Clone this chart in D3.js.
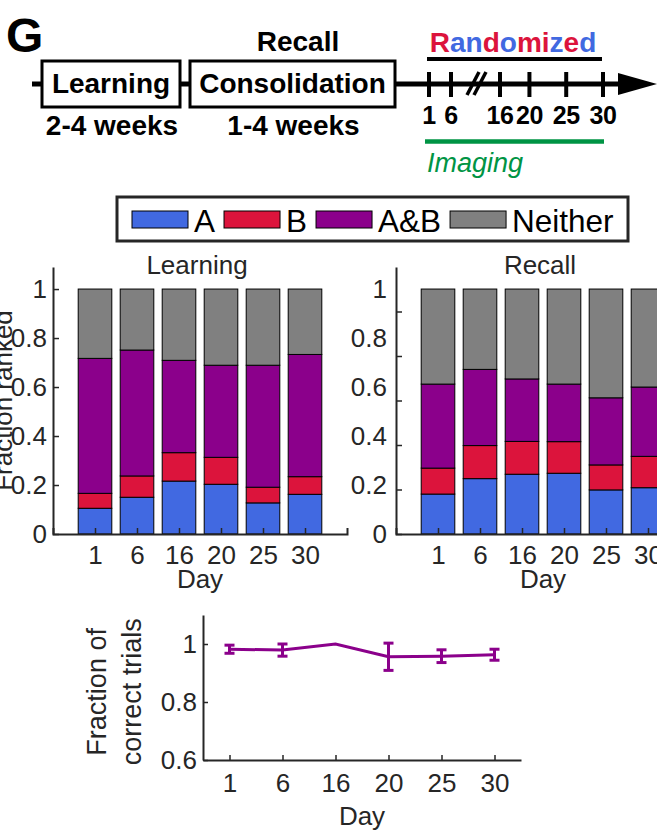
<!DOCTYPE html>
<html>
<head>
<meta charset="utf-8">
<script src="https://cdn.jsdelivr.net/npm/d3@7"></script>
<style>
  body { margin: 0; background: #fff; }
  svg { display: block; font-family: "Liberation Sans", Arial, sans-serif; }
</style>
</head>
<body>
<script>
// categories
var days = ['1', '6', '16', '20', '25', '30'];
var keys = ['A', 'B', 'A&B', 'Neither'];
var colors = ['#4169e1', '#dc143c', '#8b008b', '#808080'];

// learning session, fraction of each ranking category (segment heights)
var learnA = [0.105, 0.150, 0.216, 0.203, 0.127, 0.162];
var learnB = [0.061, 0.087, 0.116, 0.110, 0.064, 0.072];
var learnAB = [0.551, 0.514, 0.377, 0.376, 0.498, 0.499];
var learnNeither = [0.283, 0.249, 0.291, 0.311, 0.311, 0.267];

// recall session
var recallA = [0.163, 0.226, 0.244, 0.248, 0.180, 0.189];
var recallB = [0.106, 0.135, 0.134, 0.129, 0.102, 0.128];
var recallAB = [0.343, 0.311, 0.255, 0.235, 0.274, 0.283];
var recallNeither = [0.388, 0.328, 0.367, 0.388, 0.444, 0.400];

// fraction of correct trials, mean and error
var correctMean = [0.982, 0.979, 1.0, 0.956, 0.958, 0.963];
var correctErr = [0.014, 0.021, 0.0, 0.047, 0.022, 0.019];

// tick values
var yTicks = [0, 0.2, 0.4, 0.6, 0.8, 1];
var yTicksCorrect = [0.6, 0.8, 1];

// timeline days and letters of "Randomized" with colour
var timelineDays = [1, 6, 16, 20, 25, 30];
var randomWord = ['R', 'a', 'n', 'd', 'o', 'm', 'i', 'z', 'e', 'd'];
var randomColor = ['r', 'b', 'b', 'r', 'b', 'r', 'r', 'b', 'r', 'b'];

var width = 657, height = 832;
var axisColor = '#262626';
var fmt = d3.format('~g');

var svg = d3.select('body').append('svg')
  .attr('width', width)
  .attr('height', height);

svg.append('rect').attr('width', width).attr('height', height).attr('fill', '#fff');

// ---------- top: experiment timeline ----------
var tline = svg.append('g');

tline.append('text')
  .attr('x', 6).attr('y', 52)
  .attr('font-size', 48).attr('font-weight', 'bold')
  .text('G');

// timeline line pieces
var lineY = 84;
tline.append('line').attr('x1', 32).attr('x2', 42).attr('y1', lineY).attr('y2', lineY)
  .attr('stroke', '#000').attr('stroke-width', 5);
tline.append('line').attr('x1', 180).attr('x2', 190).attr('y1', lineY).attr('y2', lineY)
  .attr('stroke', '#000').attr('stroke-width', 5);
tline.append('line').attr('x1', 395).attr('x2', 622).attr('y1', lineY).attr('y2', lineY)
  .attr('stroke', '#000').attr('stroke-width', 5);
tline.append('path')
  .attr('d', 'M618,' + (lineY - 11) + 'L657,' + lineY + 'L618,' + (lineY + 11) + 'Z')
  .attr('fill', '#000');

// boxes
var boxes = [
  { label: 'Learning', under: '2-4 weeks', x0: 42, x1: 180 },
  { label: 'Consolidation', under: '1-4 weeks', x0: 190, x1: 395 }
];
boxes.forEach(function(b) {
  tline.append('rect')
    .attr('x', b.x0).attr('y', 61)
    .attr('width', b.x1 - b.x0).attr('height', 46)
    .attr('fill', '#fff').attr('stroke', '#000').attr('stroke-width', 3);
  tline.append('text')
    .attr('x', (b.x0 + b.x1) / 2).attr('y', 93)
    .attr('text-anchor', 'middle')
    .attr('font-size', 28).attr('font-weight', 'bold')
    .text(b.label);
  tline.append('text')
    .attr('x', (b.x0 + b.x1) / 2 + 1).attr('y', 135)
    .attr('text-anchor', 'middle')
    .attr('font-size', 28).attr('font-weight', 'bold')
    .text(b.under);
});

tline.append('text')
  .attr('x', 298).attr('y', 51)
  .attr('text-anchor', 'middle')
  .attr('font-size', 28).attr('font-weight', 'bold')
  .text('Recall');

// day ticks along the timeline (broken axis between 6 and 16)
var tl = d3.scaleLinear().domain([1, 6, 16, 30]).range([429, 451, 500, 603]);

tline.selectAll('line.tltick')
  .data(timelineDays)
  .enter().append('line')
  .attr('class', 'tltick')
  .attr('x1', function(d) { return tl(d); })
  .attr('x2', function(d) { return tl(d); })
  .attr('y1', 72).attr('y2', 97)
  .attr('stroke', '#000').attr('stroke-width', 4);

tline.selectAll('text.tllab')
  .data(timelineDays)
  .enter().append('text')
  .attr('class', 'tllab')
  .attr('x', function(d) { return tl(d); })
  .attr('y', 124)
  .attr('text-anchor', 'middle')
  .attr('font-size', 25).attr('font-weight', 'bold')
  .attr('letter-spacing', -0.5)
  .text(function(d) { return d; });

// break mark
[0, 7].forEach(function(dx) {
  tline.append('line')
    .attr('x1', 467 + dx).attr('y1', 95)
    .attr('x2', 479 + dx).attr('y2', 72)
    .attr('stroke', '#000').attr('stroke-width', 3.5);
});

// Randomized
var rnd = tline.append('text')
  .attr('x', 513).attr('y', 52)
  .attr('text-anchor', 'middle')
  .attr('font-size', 28).attr('font-weight', 'bold');
rnd.selectAll('tspan')
  .data(randomWord)
  .enter().append('tspan')
  .attr('fill', function(d, i) { return randomColor[i] === 'r' ? '#dc143c' : '#4169e1'; })
  .text(function(d) { return d; });

tline.append('line')
  .attr('x1', tl(1) - 2).attr('x2', tl(30) - 1)
  .attr('y1', 59).attr('y2', 59)
  .attr('stroke', '#000').attr('stroke-width', 4);

tline.append('line')
  .attr('x1', tl(1) - 4).attr('x2', tl(30) + 1)
  .attr('y1', 141.5).attr('y2', 141.5)
  .attr('stroke', '#009444').attr('stroke-width', 4.5);

tline.append('text')
  .attr('x', 427).attr('y', 172)
  .attr('font-size', 27).attr('font-style', 'italic')
  .attr('fill', '#009444')
  .text('Imaging');

// ---------- legend ----------
var legend = svg.append('g');
legend.append('rect')
  .attr('x', 117).attr('y', 197)
  .attr('width', 511).attr('height', 44)
  .attr('fill', '#fff').attr('stroke', axisColor).attr('stroke-width', 3);

var cursor = 132;
keys.forEach(function(k, i) {
  legend.append('rect')
    .attr('x', cursor).attr('y', 211)
    .attr('width', 56).attr('height', 17)
    .attr('fill', colors[i]).attr('stroke', '#000').attr('stroke-width', 1);
  var t = legend.append('text')
    .attr('x', cursor + 62).attr('y', 232)
    .attr('font-size', 31.5)
    .text(k);
  cursor = cursor + 62 + t.node().getComputedTextLength() + 9;
});

// ---------- stacked bar charts ----------
function styleAxis(g) {
  g.attr('color', axisColor)
    .attr('font-family', '"Liberation Sans", Arial, sans-serif')
    .attr('font-size', 26);
  g.select('.domain').attr('stroke-width', 2);
  g.selectAll('.tick line').attr('stroke-width', 1.5);
}

function stackedChart(left, title, a, b, ab, ne, oddTicks) {
  var x = d3.scaleLinear().domain([0, 7]).range([left, left + 294]);
  var y = d3.scaleLinear().domain([0, 1.09]).range([534, 267]);

  var rows = days.map(function(d, i) {
    return { idx: i + 1, 'A': a[i], 'B': b[i], 'A&B': ab[i], 'Neither': ne[i] };
  });
  var series = d3.stack().keys(keys)(rows);

  var g = svg.append('g');

  g.selectAll('g.series')
    .data(series)
    .enter().append('g')
    .attr('class', 'series')
    .attr('fill', function(d, i) { return colors[i]; })
    .selectAll('rect')
    .data(function(d) { return d; })
    .enter().append('rect')
    .attr('x', function(d) { return x(d.data.idx - 0.4); })
    .attr('width', x(0.8) - x(0))
    .attr('y', function(d) { return y(d[1]); })
    .attr('height', function(d) { return y(d[0]) - y(d[1]); })
    .attr('stroke', '#000').attr('stroke-width', 1);

  // x axis, ticks inward
  var xa = g.append('g')
    .attr('transform', 'translate(0,' + y(0) + ')')
    .call(d3.axisBottom(x)
      .tickValues([1, 2, 3, 4, 5, 6])
      .tickFormat(function(d) { return days[d - 1]; })
      .tickSizeInner(-6).tickSizeOuter(-6).tickPadding(12));
  styleAxis(xa);

  // y axis
  if (oddTicks) {
    // labels follow the bar scale, tick marks sit on their own spacing
    var ya = g.append('g')
      .attr('transform', 'translate(' + x(0) + ',0)')
      .call(d3.axisLeft(y).tickValues(yTicks).tickFormat(fmt)
        .tickSize(0).tickPadding(9));
    styleAxis(ya);
    var y2 = d3.scaleLinear().domain([0, 1.2]).range([534, 267]);
    var yt = g.append('g')
      .attr('transform', 'translate(' + x(0) + ',0)')
      .call(d3.axisLeft(y2).tickValues(yTicks).tickFormat('').tickSize(-6));
    yt.select('.domain').remove();
    styleAxis(yt);
  } else {
    var ya2 = g.append('g')
      .attr('transform', 'translate(' + x(0) + ',0)')
      .call(d3.axisLeft(y).tickValues(yTicks).tickFormat(fmt)
        .tickSizeInner(-6).tickSizeOuter(0).tickPadding(6));
    styleAxis(ya2);
  }

  g.append('text')
    .attr('x', x(3.5) - 3).attr('y', 274)
    .attr('text-anchor', 'middle')
    .attr('font-size', 26).attr('fill', axisColor)
    .text(title);

  g.append('text')
    .attr('x', x(3.5)).attr('y', 588)
    .attr('text-anchor', 'middle')
    .attr('font-size', 26).attr('fill', axisColor)
    .text('Day');

  return { x: x, y: y };
}

var learnChart = stackedChart(53, 'Learning', learnA, learnB, learnAB, learnNeither, false);
stackedChart(396, 'Recall', recallA, recallB, recallAB, recallNeither, true);

// y label of the left chart, partly cut by the page edge
svg.append('text')
  .attr('transform', 'translate(12,' + learnChart.y(0.545) + ') rotate(-90)')
  .attr('text-anchor', 'middle')
  .attr('font-size', 26).attr('fill', axisColor)
  .text('Fraction ranked');

// ---------- correct trials line chart ----------
var cx = d3.scaleLinear().domain([0.5, 6.5]).range([203, 521]);
var cy = d3.scaleLinear().domain([0.6, 1.1]).range([760, 615]);
var purple = '#8b008b';

var cg = svg.append('g');

var cxa = cg.append('g')
  .attr('transform', 'translate(0,' + cy(0.6) + ')')
  .call(d3.axisBottom(cx)
    .tickValues([1, 2, 3, 4, 5, 6])
    .tickFormat(function(d) { return days[d - 1]; })
    .tickSizeInner(-5).tickSizeOuter(0).tickPadding(14));
styleAxis(cxa);

var cya = cg.append('g')
  .attr('transform', 'translate(' + cx(0.5) + ',0)')
  .call(d3.axisLeft(cy).tickValues(yTicksCorrect).tickFormat(fmt)
    .tickSizeInner(-5).tickSizeOuter(0).tickPadding(6));
styleAxis(cya);

var pts = correctMean.map(function(m, i) { return { idx: i + 1, m: m, e: correctErr[i] }; });

cg.append('path')
  .datum(pts)
  .attr('fill', 'none')
  .attr('stroke', purple).attr('stroke-width', 3)
  .attr('d', d3.line()
    .x(function(d) { return cx(d.idx); })
    .y(function(d) { return cy(d.m); }));

var eb = cg.selectAll('g.err')
  .data(pts.filter(function(d) { return d.e > 0; }))
  .enter().append('g')
  .attr('class', 'err')
  .attr('stroke', purple).attr('stroke-width', 3);
eb.append('line')
  .attr('x1', function(d) { return cx(d.idx); })
  .attr('x2', function(d) { return cx(d.idx); })
  .attr('y1', function(d) { return cy(d.m - d.e); })
  .attr('y2', function(d) { return cy(d.m + d.e); });
[-1, 1].forEach(function(s) {
  eb.append('line')
    .attr('x1', function(d) { return cx(d.idx) - 5; })
    .attr('x2', function(d) { return cx(d.idx) + 5; })
    .attr('y1', function(d) { return cy(d.m + s * d.e); })
    .attr('y2', function(d) { return cy(d.m + s * d.e); });
});

var ylab = cg.append('text')
  .attr('transform', 'translate(106,' + cy(0.835) + ') rotate(-90)')
  .attr('text-anchor', 'middle')
  .attr('font-size', 27).attr('fill', axisColor);
ylab.append('tspan').attr('x', 0).attr('dy', 0).text('Fraction of');
ylab.append('tspan').attr('x', 0).attr('dy', 35).text('correct trials');

cg.append('text')
  .attr('x', cx(3.5)).attr('y', 825)
  .attr('text-anchor', 'middle')
  .attr('font-size', 26).attr('fill', axisColor)
  .text('Day');
</script>
</body>
</html>
